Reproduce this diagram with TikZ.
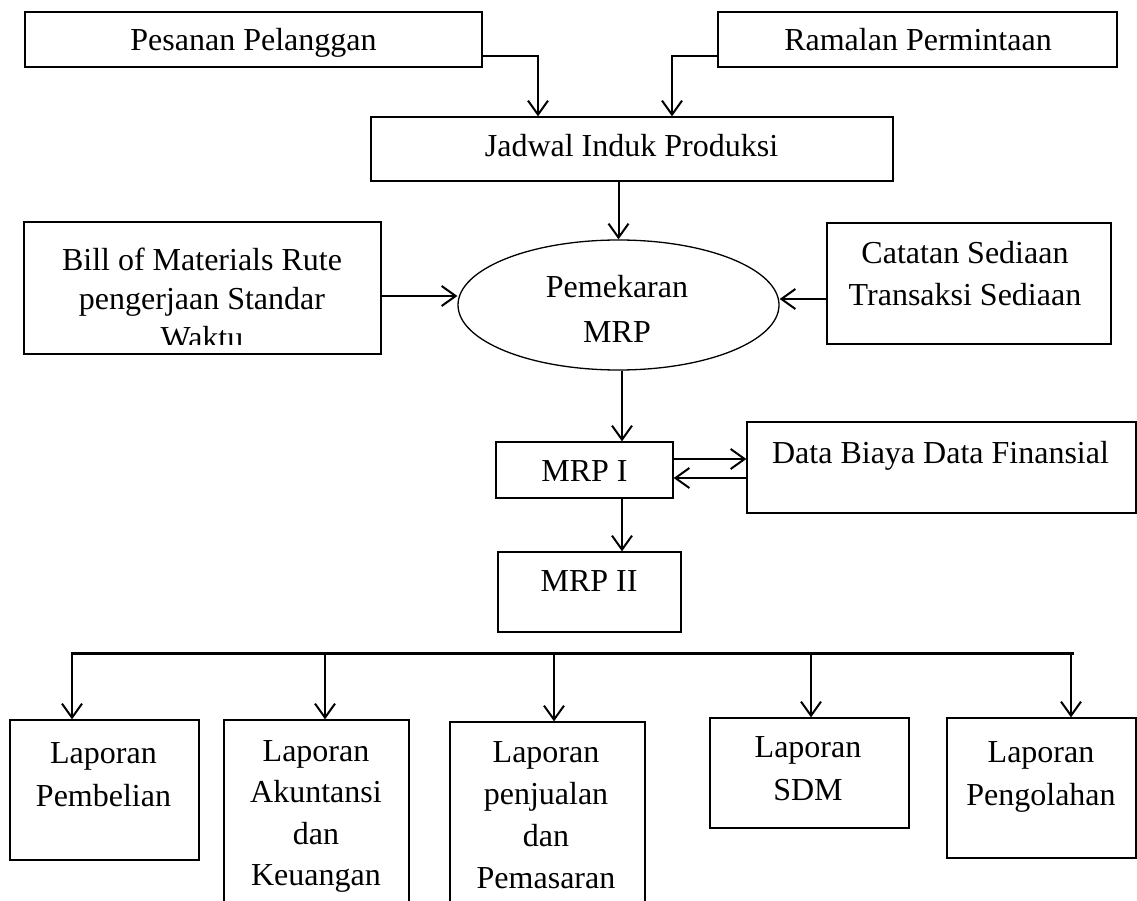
\documentclass[tikz,border=0pt]{standalone}
\usepackage{fontspec}
\setmainfont{Liberation Serif}
\usetikzlibrary{arrows.meta,shapes.geometric,calc}

% centred lines whose baseline is that of the first row
\newcommand{\txtrows}[1]{\begin{tabular}[t]{@{}c@{}}#1\end{tabular}}

\begin{document}
\begin{tikzpicture}[x=1pt,y=-1pt,
  box/.style={draw,line width=1.3pt,inner sep=0pt},
  txt/.style={anchor=base,inner sep=0pt,font=\fontsize{32}{#1}\selectfont},
  txt/.default=43,
  arr/.style={line width=2pt,-{Straight Barb[length=14pt,width=20pt,line width=2pt]}},
  bus/.style={line width=3pt}
  ]
\useasboundingbox (0,0) rectangle (1137,901);
\clip (0,0) rectangle (1137,901);

% inputs
\node[box,minimum width=457pt,minimum height=55pt] (pp) at (253.5,39.5) {};
\node[txt] (ppt) at (253.5,51) {Pesanan Pelanggan};
\node[box,minimum width=399pt,minimum height=55pt] (rp) at (917.5,39.5) {};
\node[txt] (rpt) at (918,51) {Ramalan Permintaan};
\node[box,minimum width=522pt,minimum height=64pt] (jip) at (632,149) {};
\node[txt] (jipt) at (631.5,157) {Jadwal Induk Produksi};

% explosion
\node[draw,ellipse,line width=1.3pt,inner sep=0pt,minimum width=321pt,minimum height=130pt] (mrp) at (618.5,305) {};
\node[txt=44] (mrpt) at (617,298) {\txtrows{Pemekaran\\MRP}};

\node[box,minimum width=357pt,minimum height=132pt] (bom) at (202.5,288) {};
\begin{scope}
  \clip (bom.north west) rectangle ([yshift=10pt]bom.south east);
  \node[txt=39] (bomt) at (202,270) {\txtrows{Bill of Materials Rute\\pengerjaan Standar\\Waktu}};
\end{scope}

\node[box,minimum width=284pt,minimum height=121pt] (cat) at (969,283.5) {};
\node[txt] (catt) at (965,263) {\txtrows{Catatan Sediaan\\Transaksi Sediaan}};

% MRP levels
\node[box,minimum width=177pt,minimum height=56pt] (mrp1) at (584.5,470) {};
\node[txt] (mrp1t) at (584.5,481) {MRP I};
\node[box,minimum width=389pt,minimum height=91pt] (dbf) at (941.5,467.5) {};
\node[txt] (dbft) at (940.5,463) {Data Biaya Data Finansial};
\node[box,minimum width=183pt,minimum height=80pt] (mrp2) at (589.5,592) {};
\node[txt] (mrp2t) at (589,591) {MRP II};

% reports
\node[box,minimum width=189pt,minimum height=140pt] (lp1) at (104.5,790) {};
\node[txt] (lp1t) at (103.5,763) {\txtrows{Laporan\\Pembelian}};
\node[box,minimum width=185pt,minimum height=200pt] (lp2) at (316.5,820) {};
\node[txt=41.5] (lp2t) at (316,761) {\txtrows{Laporan\\Akuntansi\\dan\\Keuangan}};
\node[box,minimum width=195pt,minimum height=198pt] (lp3) at (547.5,821) {};
\node[txt=42] (lp3t) at (546,762) {\txtrows{Laporan\\penjualan\\dan\\Pemasaran}};
\node[box,minimum width=199pt,minimum height=110pt] (lp4) at (809.5,773) {};
\node[txt] (lp4t) at (808,757) {\txtrows{Laporan\\SDM}};
\node[box,minimum width=189pt,minimum height=140pt] (lp5) at (1041.5,788) {};
\node[txt] (lp5t) at (1041,762) {\txtrows{Laporan\\Pengolahan}};

% connection points
\coordinate (inL) at ([yshift=9pt]mrp.west);
\coordinate (inR) at ([yshift=6pt]mrp.east);
\coordinate (m1in) at ([xshift=37.5pt]mrp1.north);
\coordinate (m1out) at ([xshift=37.5pt]mrp1.south);
\coordinate (m1a) at ([yshift=11pt]mrp1.east);
\coordinate (m1b) at ([yshift=-8pt]mrp1.east);

% connectors
\draw[arr] ([yshift=-16.5pt]pp.east) -| ([xshift=-94pt]jip.north);
\draw[arr] ([yshift=-16.5pt]rp.west) -| ([xshift=40pt]jip.north);
\draw[arr] (jip.south -| mrp.north) -- (mrp.north);
\draw[arr] (bom.east |- inL) -- (inL);
\draw[arr] (cat.west |- inR) -- (inR);
\draw[arr] (mrp.south -| m1in) -- (m1in);
\draw[arr] (m1a) -- (m1a -| dbf.west);
\draw[arr] (m1b -| dbf.west) -- (m1b);
\draw[arr] (m1out) -- (m1out |- mrp2.north);

% distribution bus
\coordinate (b1) at (72,653);
\coordinate (b2) at (325,653);
\coordinate (b3) at (554,653);
\coordinate (b4) at (811,653);
\coordinate (b5) at (1071,653);
\coordinate (bend) at (1074,653);
\draw[bus] ([xshift=-1.5pt]b1) -- (bend);
\draw[arr] (b1) -- (b1 |- lp1.north);
\draw[arr] (b2) -- (b2 |- lp2.north);
\draw[arr] (b3) -- (b3 |- lp3.north);
\draw[arr] (b4) -- (b4 |- lp4.north);
\draw[arr] (b5) -- (b5 |- lp5.north);
\end{tikzpicture}
\end{document}
